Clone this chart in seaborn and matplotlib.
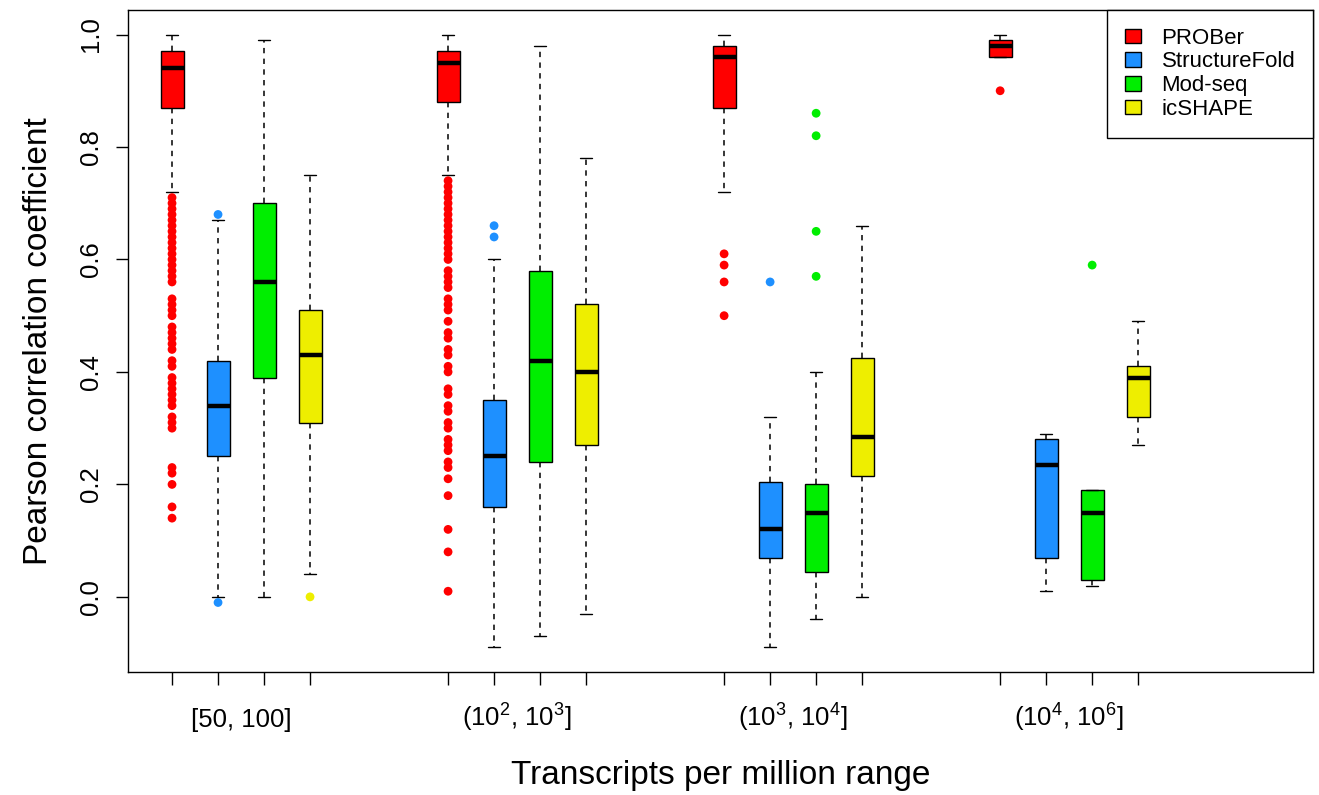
import pandas as pd
import seaborn as sns
import matplotlib.pyplot as plt

sns.set_theme(style="ticks", rc={
    "axes.edgecolor": "black", "xtick.color": "black", "ytick.color": "black",
    "text.color": "black", "axes.labelcolor": "black", "axes.linewidth": 1.0,
})
plt.rcParams["font.family"] = ["Liberation Sans", "DejaVu Sans"]
plt.rcParams["mathtext.fontset"] = "custom"
plt.rcParams["mathtext.rm"] = "Liberation Sans"
plt.rcParams["mathtext.it"] = "Liberation Sans:italic"

methods = ["PROBer", "StructureFold", "Mod-seq", "icSHAPE"]
colors = ["#FF0000", "#1E90FF", "#00EE00", "#EEEE00"]
tpm_ranges = ["[50, 100]", r"($10^2$, $10^3$]", r"($10^3$, $10^4$]", r"($10^4$, $10^6$]"]

# one slot per box, 4 methods per TPM range with a gap between ranges
box_pos = [1, 2, 3, 4, 7, 8, 9, 10, 13, 14, 15, 16, 19, 20, 21, 22]
label_pos = [2.5, 8.5, 14.5, 20.5]

# five-number summaries, box order: range by range, methods in legend order
whisk_lo = [0.72, 0.00, 0.00, 0.04, 0.75, -0.09, -0.07, -0.03,
            0.72, -0.09, -0.04, 0.00, 0.96, 0.01, 0.02, 0.27]
q1 = [0.87, 0.25, 0.39, 0.31, 0.88, 0.16, 0.24, 0.27,
      0.87, 0.07, 0.045, 0.215, 0.96, 0.07, 0.03, 0.32]
median = [0.94, 0.34, 0.56, 0.43, 0.95, 0.25, 0.42, 0.40,
          0.96, 0.12, 0.15, 0.285, 0.98, 0.235, 0.15, 0.39]
q3 = [0.97, 0.42, 0.70, 0.51, 0.97, 0.35, 0.58, 0.52,
      0.98, 0.205, 0.20, 0.425, 0.99, 0.28, 0.19, 0.41]
whisk_hi = [1.00, 0.67, 0.99, 0.75, 1.00, 0.60, 0.98, 0.78,
            1.00, 0.32, 0.40, 0.66, 1.00, 0.29, 0.19, 0.49]

# outliers, same box order
outliers = [
    [0.71, 0.70, 0.69, 0.68, 0.67, 0.66, 0.65, 0.64, 0.63, 0.62, 0.61, 0.60,
     0.59, 0.58, 0.57, 0.56, 0.53, 0.52, 0.51, 0.50, 0.48, 0.47, 0.46, 0.45,
     0.44, 0.42, 0.41, 0.39, 0.38, 0.37, 0.36, 0.35, 0.34, 0.32, 0.31, 0.30,
     0.23, 0.22, 0.20, 0.16, 0.14],
    [0.68, -0.01],
    [],
    [0.00],
    [0.74, 0.73, 0.72, 0.71, 0.70, 0.69, 0.68, 0.67, 0.66, 0.65, 0.64, 0.63,
     0.62, 0.61, 0.60, 0.58, 0.57, 0.56, 0.55, 0.53, 0.52, 0.51, 0.49, 0.47,
     0.46, 0.44, 0.43, 0.41, 0.40, 0.37, 0.36, 0.34, 0.33, 0.31, 0.30, 0.28,
     0.27, 0.26, 0.24, 0.23, 0.21, 0.18, 0.12, 0.08, 0.01],
    [0.66, 0.64],
    [],
    [],
    [0.61, 0.59, 0.56, 0.50],
    [0.56],
    [0.86, 0.82, 0.65, 0.57],
    [],
    [0.90],
    [],
    [0.59],
    [],
]

# long tables: each box gets its 5 summary values (quartiles fall exactly on them)
rows, out_rows = [], []
for i, p in enumerate(box_pos):
    m = methods[i % 4]
    for v in (whisk_lo[i], q1[i], median[i], q3[i], whisk_hi[i]):
        rows.append({"pos": p, "method": m, "value": v})
    for v in outliers[i]:
        out_rows.append({"pos": p, "method": m, "value": v})
box_df = pd.DataFrame(rows)
out_df = pd.DataFrame(out_rows)

fig = plt.figure(figsize=(13.19, 7.95), dpi=100)
ax = fig.add_axes([128 / 1319, 1 - 672 / 795, (1313 - 128) / 1319, (672 - 10) / 795])

sns.boxplot(
    data=box_df, x="pos", y="value", hue="method", hue_order=methods,
    palette=colors, native_scale=True, dodge=False, width=0.5,
    whis=(0, 100), showfliers=False, saturation=1, linecolor="black",
    linewidth=1.0, capwidths=0.25,
    whiskerprops={"linestyle": (0, (3.5, 3.5)), "linewidth": 1.1},
    medianprops={"color": "black", "linewidth": 3.2},
    ax=ax,
)
sns.scatterplot(
    data=out_df, x="pos", y="value", hue="method", hue_order=methods,
    palette=colors, s=40, edgecolor="none", legend=False, zorder=3, ax=ax,
)

ax.set_xlim(0.043, 25.8)
ax.set_ylim(-0.1336, 1.0436)
ax.set_yticks([0.0, 0.2, 0.4, 0.6, 0.8, 1.0], ["0.0", "0.2", "0.4", "0.6", "0.8", "1.0"])
ax.set_xticks(box_pos, [""] * len(box_pos))
ax.tick_params(axis="both", which="major", length=9, width=1.0, labelsize=18.5)
ax.tick_params(axis="y", labelrotation=90, pad=9)
plt.setp(ax.get_yticklabels(), va="center")

# range labels sit between the ticks, on a shared baseline
for x, lab in zip(label_pos, tpm_ranges):
    ax.text(x, -0.083, lab, transform=ax.get_xaxis_transform(),
            ha="center", va="baseline", fontsize=18.5)

ax.set_xlabel("Transcripts per million range", fontsize=24)
ax.xaxis.set_label_coords(0.5, -0.1556)
ax.xaxis.label.set_va("center")
ax.set_ylabel("Pearson correlation coefficient", fontsize=24, labelpad=18)

sns.move_legend(
    ax, "upper right", title=None, frameon=True, fancybox=False,
    edgecolor="black", framealpha=1, borderaxespad=0, fontsize=16,
    handlelength=0.75, handleheight=0.65, handletextpad=0.9,
    borderpad=0.8, labelspacing=0.12,
)
ax.get_legend().get_frame().set_linewidth(1.0)

fig.savefig("out.png", dpi=100)
